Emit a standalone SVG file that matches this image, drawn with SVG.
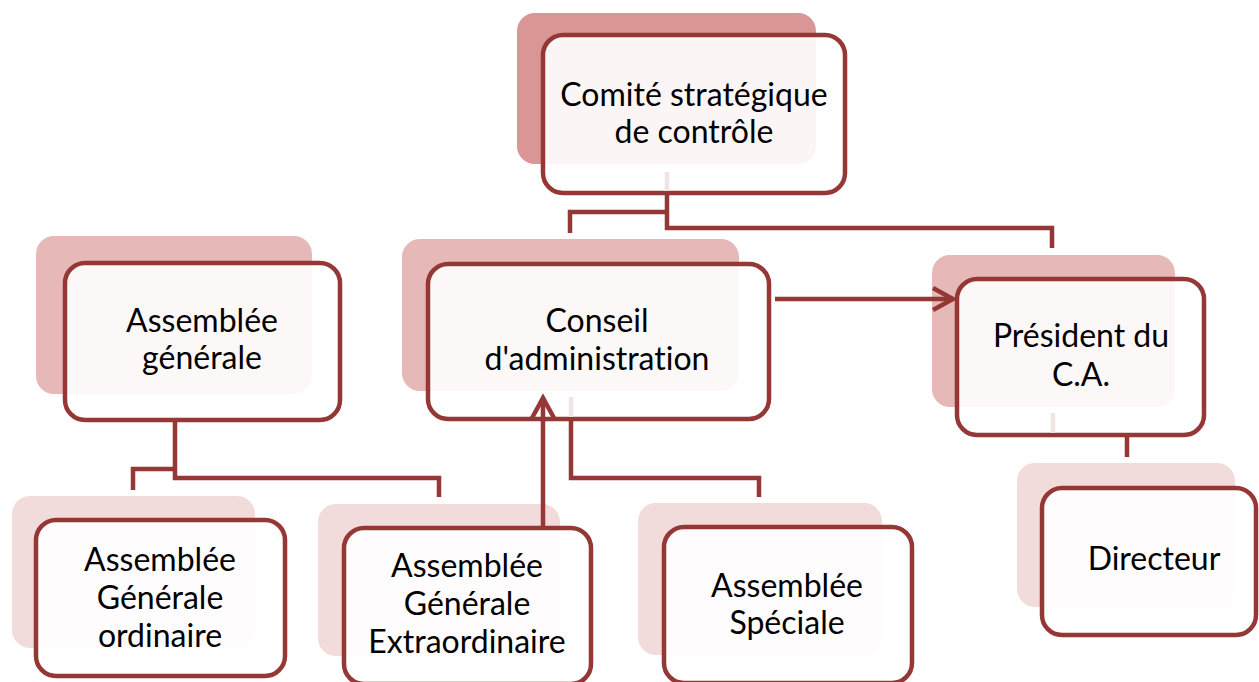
<svg xmlns="http://www.w3.org/2000/svg" width="1259" height="682" viewBox="0 0 1259 682">
<style>
  .bk1 { fill: #D99694; }
  .bk2 { fill: #E6B9B8; }
  .bk3 { fill: #F2DCDB; }
  .box { fill: #FFFFFF; fill-opacity: 0.9; stroke: #953735; stroke-width: 4.5; }
  .lbl { font-family: "Lato", "Liberation Sans", sans-serif; font-size: 32px; fill: #000000; text-anchor: middle; font-variant-ligatures: none; }
  .con { fill: none; stroke: #953735; stroke-width: 4.5; }
  .faint { fill: none; stroke: #F0E3E3; stroke-width: 4.5; }
  .arr { fill: none; stroke: #953735; stroke-width: 4.5; marker-end: url(#open); }
</style>
<defs>
  <marker id="open" markerUnits="userSpaceOnUse" markerWidth="30" markerHeight="30" refX="20" refY="11" orient="auto" overflow="visible">
    <path d="M0,0 L20,11 L0,22" fill="none" stroke="#953735" stroke-width="4.5" stroke-linejoin="miter"/>
  </marker>
</defs>
<rect width="1259" height="682" fill="#FFFFFF"/>

<g id="node-comite">
  <rect class="bk1" x="517" y="13" width="299" height="151" rx="18"/>
  <rect class="box" x="543" y="35" width="302" height="158" rx="20"/>
  <text class="lbl" x="694" y="106">Comité stratégique</text>
  <text class="lbl" x="694" y="143">de contrôle</text>
</g>

<g id="node-ag">
  <rect class="bk2" x="36" y="236" width="276" height="158" rx="18"/>
  <rect class="box" x="65" y="263" width="275" height="157" rx="20"/>
  <text class="lbl" x="202" y="332">Assemblée</text>
  <text class="lbl" x="202" y="369">générale</text>
</g>

<g id="node-conseil">
  <rect class="bk2" x="402" y="239" width="337" height="152" rx="18"/>
  <rect class="box" x="428" y="264" width="341" height="155" rx="20"/>
  <text class="lbl" x="597" y="332">Conseil</text>
  <text class="lbl" x="597" y="370">d'administration</text>
</g>

<g id="node-president">
  <rect class="bk2" x="932" y="255" width="243" height="152" rx="18"/>
  <rect class="box" x="957" y="279" width="247" height="156" rx="20"/>
  <text class="lbl" x="1081" y="347">Président du</text>
  <text class="lbl" x="1081" y="386">C.A.</text>
</g>

<g id="node-directeur">
  <rect class="bk3" x="1017" y="463" width="218" height="144" rx="18"/>
  <rect class="box" x="1042" y="488" width="214" height="147" rx="20"/>
  <text class="lbl" x="1154" y="570">Directeur</text>
</g>

<g id="node-ago">
  <rect class="bk3" x="12" y="496" width="243" height="152" rx="18"/>
  <rect class="box" x="36" y="520" width="249" height="156" rx="20"/>
  <text class="lbl" x="160" y="571">Assemblée</text>
  <text class="lbl" x="160" y="609">Générale</text>
  <text class="lbl" x="160" y="647">ordinaire</text>
</g>

<g id="node-age">
  <rect class="bk3" x="318" y="504" width="242" height="152" rx="18"/>
  <rect class="box" x="344" y="528" width="247" height="156" rx="20"/>
  <text class="lbl" x="467" y="577">Assemblée</text>
  <text class="lbl" x="467" y="615">Générale</text>
  <text class="lbl" x="467" y="653">Extraordinaire</text>
</g>

<g id="node-as">
  <rect class="bk3" x="638" y="503" width="244" height="152" rx="18"/>
  <rect class="box" x="664" y="527" width="248" height="156" rx="20"/>
  <text class="lbl" x="787" y="597">Assemblée</text>
  <text class="lbl" x="787" y="634">Spéciale</text>
</g>

<g id="connectors">
  <path class="faint" d="M667,172 V191"/>
  <path class="faint" d="M571,397 V417"/>
  <path class="faint" d="M1053,413 V433"/>
  <path class="con" d="M570,233 V212 H667"/>
  <path class="con" d="M667,195 V228 H1052 V248"/>
  <path class="con" d="M133,490 V469 H175"/>
  <path class="con" d="M175,422 V478 H439 V497"/>
  <path class="con" d="M571,421 V478 H759 V497"/>
  <path class="con" d="M1127,437 V457"/>
  <path class="arr" d="M543,526 V398"/>
  <path class="arr" d="M775,299 H953"/>
</g>
</svg>
